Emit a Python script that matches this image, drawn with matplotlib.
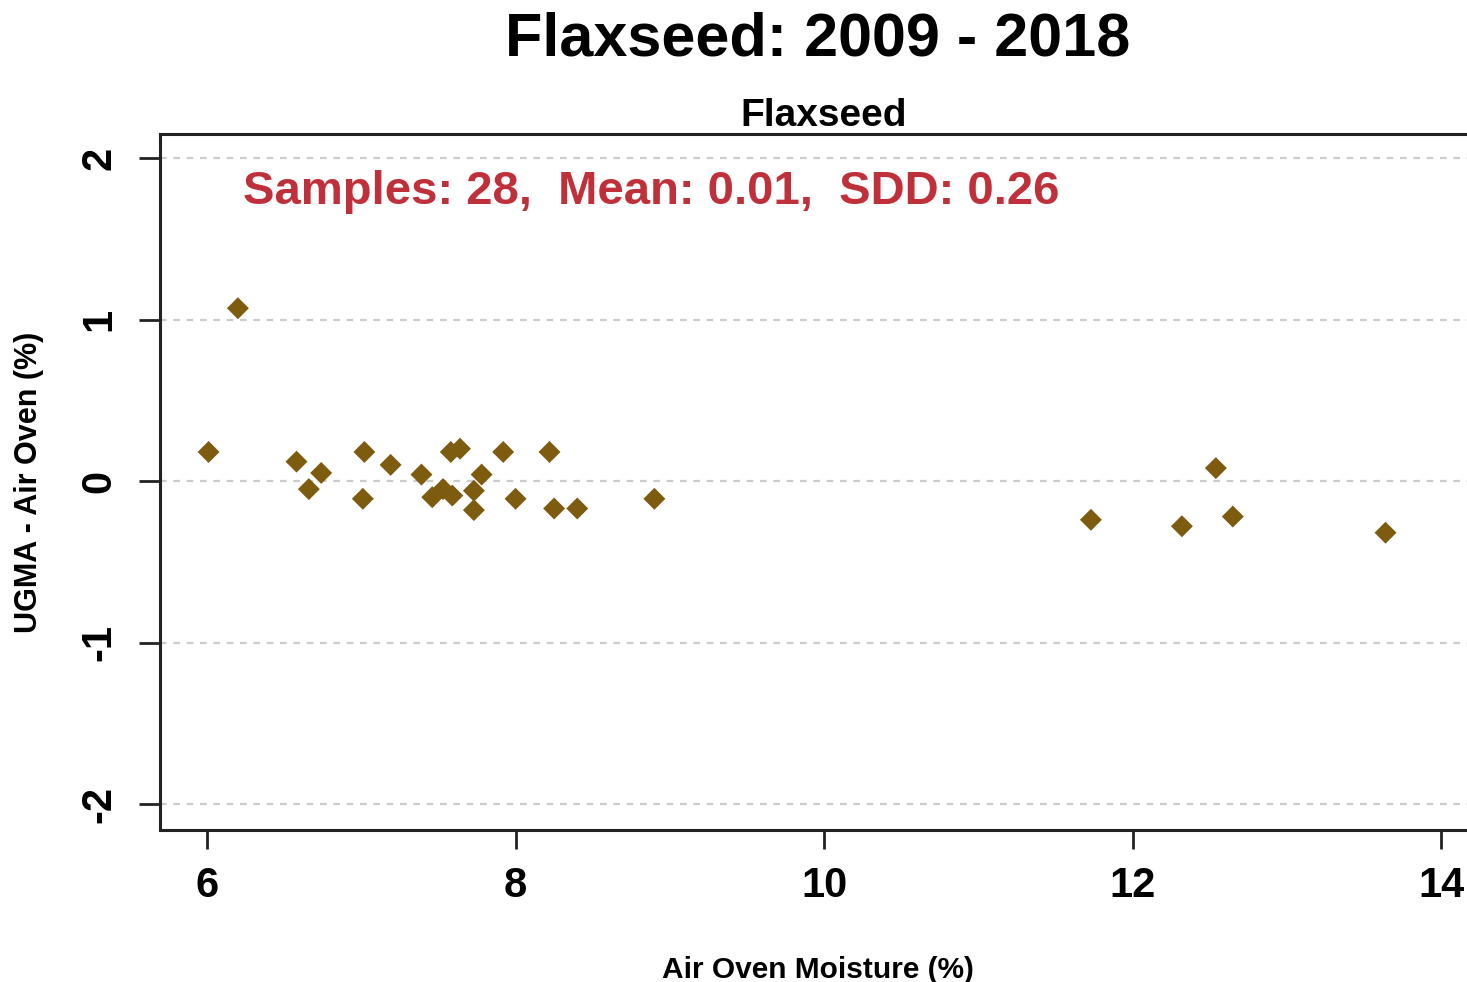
import numpy as np
import matplotlib.pyplot as plt

plt.rcParams['font.family'] = ['Liberation Sans', 'DejaVu Sans']

# air oven moisture (%) and UGMA - air oven difference (%)
moisture = [6.20, 6.01, 6.58, 6.74, 6.66, 7.02, 7.01, 7.19, 7.39, 7.46,
            7.53, 7.59, 7.58, 7.64, 7.73, 7.78, 7.73, 7.92, 8.00, 8.22,
            8.25, 8.40, 8.90, 11.73, 12.32, 12.54, 12.65, 13.64]
diff = [1.07, 0.18, 0.12, 0.05, -0.05, 0.18, -0.11, 0.10, 0.04, -0.10,
        -0.05, -0.09, 0.18, 0.20, -0.06, 0.04, -0.18, 0.18, -0.11, 0.18,
        -0.17, -0.17, -0.11, -0.24, -0.28, 0.08, -0.22, -0.32]

x_ticks = [6, 8, 10, 12, 14]
y_ticks = [-2, -1, 0, 1, 2]

n = 28
mean_val = 0.01
sdd = 0.26

fig = plt.figure(figsize=(14.67, 9.82), dpi=100)
ax = fig.add_axes([160/1467, 1-830/982, (1475-160)/1467, (830-134)/982])

ax.scatter(moisture, diff, marker='D', s=125, color='#7d5c10', edgecolors='none', zorder=3)

ax.set_xlim(5.695, 14.22)
ax.set_ylim(-2.161, 2.149)
ax.set_xticks(x_ticks)
ax.set_yticks(y_ticks)
ax.set_xticklabels([str(t) for t in x_ticks], fontsize=30, fontweight='bold')
ax.set_yticklabels([str(t) for t in y_ticks], fontsize=30, fontweight='bold',
                   rotation=90, va='center')
ax.tick_params(axis='x', length=14, width=2, color='#222222', pad=12)
ax.tick_params(axis='y', length=15, width=2, color='#222222', pad=14)

for yv in y_ticks:
    ax.axhline(yv, color='#cccccc', lw=1.6, ls=(0, (3, 3)), zorder=1)

for sp in ax.spines.values():
    sp.set_linewidth(2.2)
    sp.set_color('#222222')

ax.set_xlabel('Air Oven Moisture (%)', fontsize=21.5, fontweight='bold', labelpad=36)
ax.set_ylabel('UGMA - Air Oven (%)', fontsize=22, fontweight='bold', labelpad=26)

ax.text(0.063, 0.917, f'Samples: {n},  Mean: {mean_val:.2f},  SDD: {sdd:.2f}',
        transform=ax.transAxes, fontsize=34, fontweight='bold', color='#c0303a',
        ha='left', va='center')

fig.text(0.5575, 0.959, 'Flaxseed: 2009 - 2018', fontsize=44, fontweight='bold',
         ha='center', va='center')
fig.text(0.5615, 0.882, 'Flaxseed', fontsize=28, fontweight='bold',
         ha='center', va='center')

fig.savefig('out.png', dpi=100)
